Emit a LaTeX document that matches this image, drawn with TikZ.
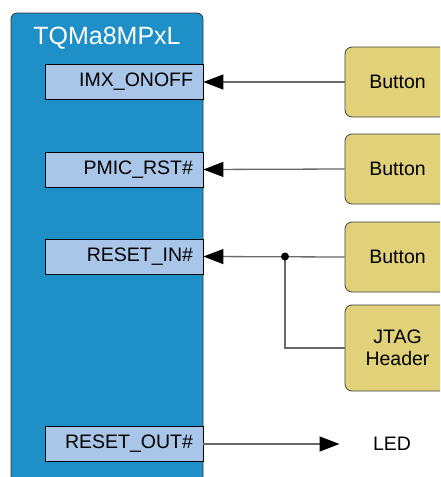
\documentclass[tikz,border=0pt]{standalone}
\usepackage{fontspec}
\setmainfont{Liberation Sans}
\usetikzlibrary{arrows.meta}
\definecolor{modblue}{RGB}{31,143,200}
\definecolor{pinblue}{RGB}{169,198,232}
\definecolor{btnyellow}{RGB}{225,210,122}
\definecolor{wiregray}{RGB}{105,105,105}
\tikzset{
  module/.style = {shape=rectangle, rounded corners=6pt, draw=black!80,
                   fill=modblue, line width=0.8pt},
  pin/.style    = {shape=rectangle, draw=black, fill=pinblue, line width=0.8pt,
                   minimum height=35pt, text width=138pt, align=right,
                   inner xsep=10pt, inner ysep=0pt,
                   font=\fontsize{19.5}{22}\selectfont},
  btn/.style    = {shape=rectangle, rounded corners=7pt, draw=black!75,
                   fill=btnyellow, line width=0.8pt, minimum width=105pt,
                   align=center, font=\fontsize{19.5}{22}\selectfont},
  wire/.style   = {draw=wiregray, line width=1.3pt},
  sig/.style    = {wire, -{Triangle[length=20pt,width=15pt,black]}}
}

\begin{document}
\begin{tikzpicture}[x=1pt,y=-1pt]
  \useasboundingbox (0,0) rectangle (440,477);
  \clip (0,0) rectangle (440,477);

  \node [module, minimum width=192pt, minimum height=500pt] (tqma) at (107,263) {};
  \node [anchor=base, text=white, font=\fontsize{25}{28}\selectfont] (title) at (107,44) {TQMa8MPxL};

  \node [pin] (onoff)  at (124,82)    {IMX\_ONOFF};
  \node [pin] (pmic)   at (124,169.5) {PMIC\_RST\#};
  \node [pin] (rstin)  at (124,256.5) {RESET\_IN\#};
  \node [pin] (rstout) at (124,444)   {RESET\_OUT\#};

  \node [btn, minimum height=70pt] (btna) at (397.5,82)  {Button};
  \node [btn, minimum height=70pt] (btnb) at (397.5,169) {Button};
  \node [btn, minimum height=70pt] (btnc) at (397.5,257) {Button};
  \node [btn, minimum height=86pt] (jtag) at (397.5,348) {JTAG\\Header};
  \node [font=\fontsize{19.5}{22}\selectfont] (led) at (392,444) {LED};

  \coordinate (junc) at (285,256.5);

  \draw [sig] (btna.west) -- (onoff.east);
  \draw [sig] (btnb.west) -- (pmic.east);
  \draw [sig] (btnc.west) -- (rstin.east);
  \draw [wire] (jtag.west) -| (junc);
  \fill (junc) circle (4pt);
  \draw [sig, shorten >=30pt] (rstout.east) -- (led.west);
\end{tikzpicture}
\end{document}
